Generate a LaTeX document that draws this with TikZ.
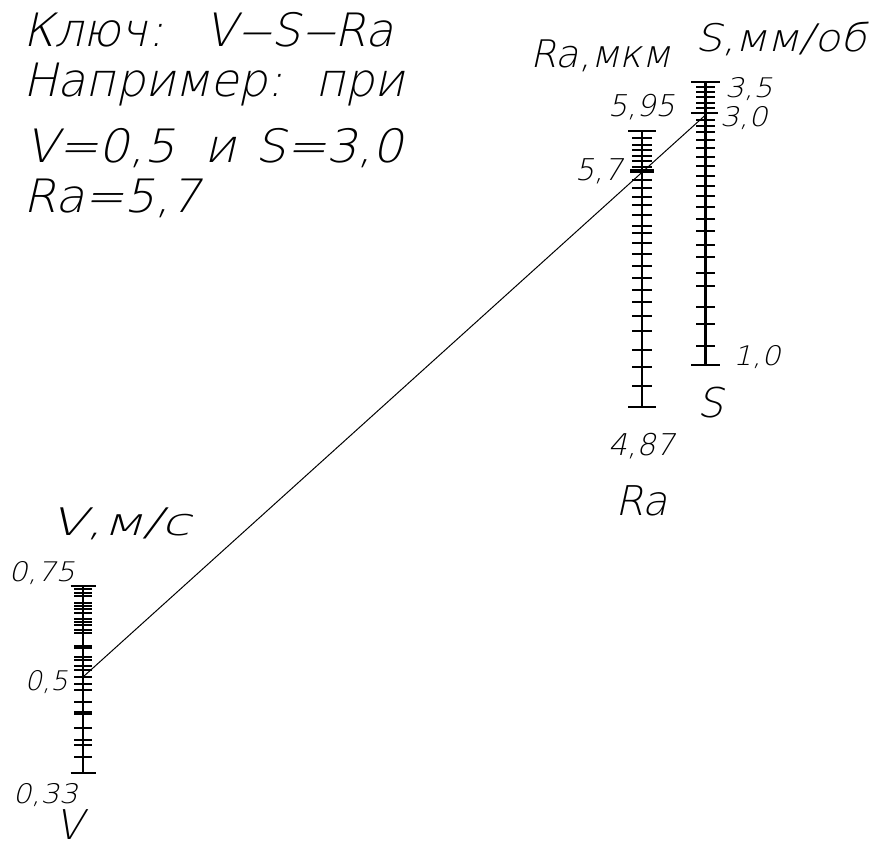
\documentclass[tikz,border=0pt]{standalone}
\usepackage{fontspec}
\setmainfont{DejaVu Sans}
\newfontfamily\cadfont{DejaVu Sans ExtraLight}[FakeSlant=0.22]
\newcommand{\fs}[1]{\cadfont\fontsize{#1}{#1}\selectfont}
\newcommand{\cdash}{\scalebox{1.5}[1]{–}}
\begin{document}
\begin{tikzpicture}[x=1pt,y=-1pt,
  lbl/.style={inner sep=0pt, font=\fs{27}},
  lblm/.style={inner sep=0pt, font=\fs{30}},
  axname/.style={inner sep=0pt, font=\fs{41}},
  unit/.style={inner sep=0pt, font=\fs{38}},
  keytext/.style={inner sep=0pt, font=\fs{46}},
  axisline/.style={line width=2.4pt},
  tick/.style={line width=2pt},
  boldtick/.style={line width=3.6pt},
  keyline/.style={line width=1pt}]
\fill[white] (0,0) rectangle (882,850);
\useasboundingbox (0,0) rectangle (882,850);

% key text
\node[keytext, anchor=base west] (k1) at (23,47) {Ключ:\hspace{0.9em}V\cdash S\cdash Ra};
\node[keytext, anchor=base west] (k2) at (23,97) {Например:\hspace{0.7em}при};
\node[keytext, anchor=base west] (k3) at (25,163) {\scalebox{1.05}[1]{V=0,5\hspace{0.6em}и\hspace{0.4em}S=3,0}};
\node[keytext, anchor=base west] (k4) at (23,213) {\scalebox{1.04}[1]{Ra=5,7}};

% ---------- V scale ----------
\coordinate (Vtop) at (83,586);
\coordinate (Vbot) at (83,773);
\coordinate (V05) at (83,677);
\draw[axisline] (Vtop) -- (Vbot);
\draw[tick] (70.5,586) -- (95.5,586);
\draw[tick] (70.5,773) -- (95.5,773);
\foreach \y in {589,593,596,603,606,609,613,619,622,625,630,633,657,660,666,670,677,684,690,702,728,740,745,757}
  \draw[tick] (74,\y) -- (92,\y);
\foreach \y in {647,713}
  \draw[boldtick] (74,\y) -- (92,\y);
\node[unit, anchor=base west] (Vunit) at (50,535) {\scalebox{1.4}[1]{V,м/с}};
\node[lbl, anchor=base east] (V075) at (75,581) {\scalebox{1.1}[1]{0,75}};
\node[lbl, anchor=base east] (V05l) at (68,690) {0,5};
\node[lbl, anchor=base east] (V033) at (78,803) {\scalebox{1.08}[1]{0,33}};
\node[axname, anchor=base west] (Vname) at (55,839) {V};

% ---------- Ra scale ----------
\coordinate (Rtop) at (642,131);
\coordinate (Rbot) at (642,407);
\coordinate (R57) at (642,171);
\draw[axisline] (Rtop) -- (Rbot);
\draw[tick] (628,131) -- (656,131);
\draw[tick] (628,407) -- (656,407);
\foreach \y in {138,145,150,156,161,167,180,188,197,205,215,226,233,243,254,266,278,290,302,316,331,350,367,386}
  \draw[tick] (632,\y) -- (652,\y);
\draw[boldtick] (630,171) -- (654,171);
\node[unit, anchor=base west] (Runit) at (530,68) {Ra,мкм};
\node[lblm, anchor=base east] (R595) at (675,117) {5,95};
\node[lblm, anchor=base east] (R57l) at (623,181) {5,7};
\node[lblm, anchor=base east] (R487) at (675,455) {4,87};
\node[axname, anchor=base west] (Rname) at (615,515) {Ra};

% ---------- S scale ----------
\coordinate (Stop) at (705.5,81.7);
\coordinate (Sbot) at (705.5,365);
\coordinate (S30) at (705.5,115);
\draw[axisline] (Stop) -- (Sbot);
\draw[tick] (691,81.7) -- (720,81.7);
\draw[tick] (691,365) -- (720,365);
\draw[tick] (691,113) -- (718,113);
\foreach \y in {86.7,92,97,103,108,120,126,132,140,148,157,166,176,186,196,207,219,231,245,257,273,286,307,324,346}
  \draw[tick] (696,\y) -- (715,\y);
\node[unit, anchor=base west] (Sunit) at (695,52) {\scalebox{1.12}[1]{S,мм/об}};
\node[lbl, anchor=base west] (S35) at (725,98) {\scalebox{1.1}[1]{3,5}};
\node[lbl, anchor=base west] (S30l) at (720,127) {\scalebox{1.1}[1]{3,0}};
\node[lbl, anchor=base west] (S10) at (733,365) {\scalebox{1.1}[1]{1,0}};
\node[axname, anchor=base west] (Sname) at (697,417) {S};

% key line
\draw[keyline] (V05) -- (S30);
\end{tikzpicture}
\end{document}
